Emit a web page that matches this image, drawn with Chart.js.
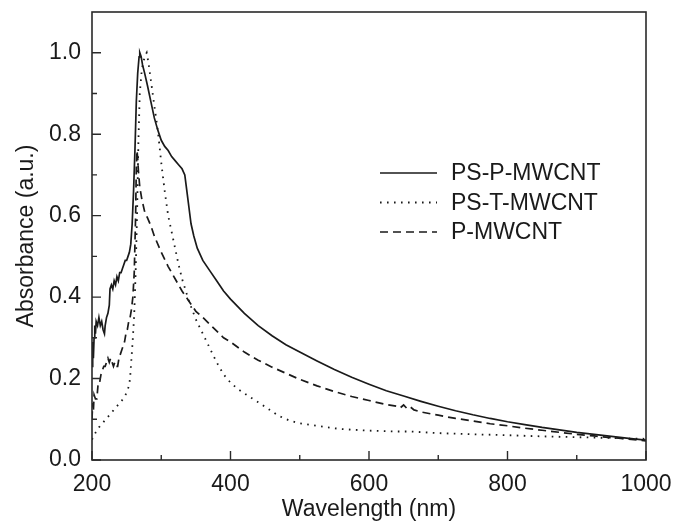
<!DOCTYPE html>
<html>
<head>
<meta charset="utf-8">
<script src="https://cdn.jsdelivr.net/npm/chart.js@4.4.1/dist/chart.umd.min.js"></script>
<style>
  html, body { margin: 0; padding: 0; background: #fff; }
  #wrap { width: 673px; height: 523px; position: relative; }
</style>
</head>
<body>
<div id="wrap"><canvas id="c"></canvas></div>
<script>
// ---- Data ----
const seriesNames = ["PS-P-MWCNT", "PS-T-MWCNT", "P-MWCNT"];

const ppWave = [200,201,202,203,204,205,206,208,210,212,214,216,218,219,221,223,225,226,228,230,232,234,236,238,240,242,244,246,248,250,252,254,256,258,260,262,264,266,268,269,271,273,276,280,285,290,295,300,305,310,315,320,325,330,334,337,340,343,347,352,360,370,380,390,400,420,440,460,480,500,525,550,575,600,625,650,675,700,725,750,775,800,825,850,875,900,925,950,975,1000];
const ppAbs  = [0.23,0.29,0.25,0.30,0.33,0.31,0.34,0.33,0.35,0.33,0.34,0.32,0.31,0.33,0.35,0.36,0.38,0.42,0.43,0.42,0.44,0.43,0.45,0.44,0.46,0.46,0.47,0.48,0.49,0.49,0.50,0.51,0.53,0.58,0.66,0.76,0.88,0.95,0.99,1.00,0.99,0.97,0.95,0.92,0.88,0.84,0.81,0.785,0.77,0.76,0.745,0.735,0.725,0.715,0.70,0.66,0.62,0.58,0.55,0.52,0.49,0.465,0.44,0.415,0.395,0.36,0.33,0.305,0.283,0.265,0.243,0.222,0.203,0.186,0.170,0.157,0.144,0.132,0.121,0.111,0.102,0.094,0.087,0.080,0.074,0.068,0.063,0.058,0.053,0.049];

const ptWave = [200,203,206,210,215,220,225,230,235,240,245,250,253,255,257,259,261,263,265,267,269,272,276,279,282,286,290,295,300,305,310,315,320,325,330,340,350,360,370,380,390,400,410,425,440,455,470,485,500,520,540,560,580,600,620,640,660,680,700,750,800,850,900,950,1000];
const ptAbs  = [0.05,0.06,0.07,0.08,0.09,0.10,0.11,0.12,0.13,0.14,0.15,0.165,0.18,0.20,0.25,0.30,0.36,0.46,0.60,0.78,0.90,0.96,0.99,1.00,0.97,0.92,0.87,0.81,0.73,0.66,0.60,0.56,0.52,0.48,0.445,0.39,0.345,0.31,0.275,0.24,0.21,0.19,0.175,0.158,0.142,0.125,0.108,0.097,0.09,0.085,0.08,0.076,0.074,0.072,0.071,0.070,0.070,0.068,0.066,0.063,0.061,0.058,0.056,0.054,0.052];

const pWave = [200,201,202,203,205,207,209,211,213,215,217,219,221,223,225,227,229,231,233,235,237,239,241,243,245,247,249,251,253,255,257,259,261,263,264,265,266,267,269,272,276,280,285,290,300,310,320,330,340,350,360,375,390,400,420,440,460,480,500,525,550,575,600,625,640,645,650,655,660,665,675,700,725,750,775,800,825,850,875,900,925,950,975,1000];
const pAbs  = [0.10,0.14,0.12,0.16,0.15,0.15,0.19,0.19,0.21,0.22,0.23,0.23,0.24,0.25,0.24,0.25,0.24,0.23,0.24,0.23,0.23,0.25,0.26,0.27,0.28,0.29,0.31,0.32,0.34,0.35,0.37,0.40,0.46,0.60,0.72,0.76,0.74,0.71,0.67,0.64,0.61,0.595,0.575,0.55,0.51,0.475,0.445,0.415,0.39,0.365,0.35,0.325,0.30,0.29,0.265,0.245,0.228,0.213,0.198,0.182,0.168,0.156,0.146,0.136,0.132,0.128,0.135,0.126,0.130,0.123,0.118,0.110,0.102,0.096,0.089,0.084,0.078,0.073,0.068,0.063,0.059,0.055,0.051,0.047];

const xTickValues = [200, 400, 600, 800, 1000];
const xMinorValues = [300, 500, 700, 900];
const yTickValues = [0.0, 0.2, 0.4, 0.6, 0.8, 1.0];
const yMinorValues = [0.1, 0.3, 0.5, 0.7, 0.9];

const xTitle = "Wavelength (nm)";
const yTitle = "Absorbance (a.u.)";

// ---- Build chart ----
const toPts = (xs, ys) => xs.map((x, i) => ({ x: x, y: ys[i] }));
const INK = '#1a1a1a';
const FONT = 'Liberation Sans, Arial, sans-serif';

const datasets = [
  { label: seriesNames[0], data: toPts(ppWave, ppAbs), borderColor: INK, borderWidth: 1.7, borderDash: [] },
  { label: seriesNames[1], data: toPts(ptWave, ptAbs), borderColor: INK, borderWidth: 1.8, borderDash: [1.6, 5.4] },
  { label: seriesNames[2], data: toPts(pWave, pAbs), borderColor: INK, borderWidth: 1.7, borderDash: [8, 5] }
].map(d => Object.assign(d, { showLine: true, pointRadius: 0, fill: false, tension: 0 }));

const framePlugin = {
  id: 'frame',
  afterDatasetsDraw(chart) {
    const { ctx, chartArea: a, scales } = chart;
    ctx.save();
    ctx.strokeStyle = '#2a2a2a';
    ctx.lineWidth = 1.6;
    ctx.setLineDash([]);
    ctx.strokeRect(a.left, a.top, a.right - a.left, a.bottom - a.top);
    ctx.lineWidth = 1.4;
    ctx.beginPath();
    xTickValues.forEach(v => { const p = scales.x.getPixelForValue(v); ctx.moveTo(p, a.bottom); ctx.lineTo(p, a.bottom - 9); });
    xMinorValues.forEach(v => { const p = scales.x.getPixelForValue(v); ctx.moveTo(p, a.bottom); ctx.lineTo(p, a.bottom - 5); });
    yTickValues.forEach(v => { const p = scales.y.getPixelForValue(v); ctx.moveTo(a.left, p); ctx.lineTo(a.left + 9, p); });
    yMinorValues.forEach(v => { const p = scales.y.getPixelForValue(v); ctx.moveTo(a.left, p); ctx.lineTo(a.left + 5, p); });
    ctx.stroke();
    ctx.restore();
  }
};

const legendPlugin = {
  id: 'innerLegend',
  afterDraw(chart) {
    const { ctx } = chart;
    const x0 = 380, x1 = 437, tx = 451, y0 = 173, dy = 29.5;
    ctx.save();
    chart.data.datasets.forEach((d, i) => {
      const y = y0 + i * dy;
      ctx.strokeStyle = d.borderColor;
      ctx.lineWidth = d.borderWidth;
      ctx.setLineDash(d.borderDash || []);
      ctx.beginPath(); ctx.moveTo(x0, y); ctx.lineTo(x1, y); ctx.stroke();
      ctx.setLineDash([]);
      ctx.fillStyle = INK;
      ctx.font = '23px ' + FONT;
      ctx.textBaseline = 'middle';
      ctx.textAlign = 'left';
      ctx.fillText(d.label, tx, y + 1);
    });
    ctx.restore();
  }
};

new Chart(document.getElementById('c'), {
  type: 'scatter',
  data: { datasets: datasets },
  plugins: [framePlugin, legendPlugin],
  options: {
    responsive: true,
    maintainAspectRatio: false,
    animation: false,
    layout: { padding: { top: 12, right: 27, left: 0, bottom: 0 } },
    plugins: { legend: { display: false }, tooltip: { enabled: false } },
    scales: {
      x: {
        type: 'linear', min: 200, max: 1000,
        afterBuildTicks: s => { s.ticks = xTickValues.map(v => ({ value: v })); },
        afterFit: s => { s.height = 63; s.paddingLeft = 0; s.paddingRight = 0; },
        grid: { display: false, drawTicks: false },
        border: { display: false },
        ticks: { color: INK, font: { family: FONT, size: 23 }, padding: 11, maxRotation: 0, callback: v => String(v) },
        title: { display: true, text: xTitle, color: INK, font: { family: FONT, size: 23 }, padding: { top: 0, bottom: 0 } }
      },
      y: {
        type: 'linear', min: 0, max: 1.1,
        afterBuildTicks: s => { s.ticks = yTickValues.map(v => ({ value: v })); },
        afterFit: s => { s.width = 92; s.paddingTop = 0; s.paddingBottom = 0; },
        grid: { display: false, drawTicks: false },
        border: { display: false },
        ticks: { color: INK, font: { family: FONT, size: 23 }, padding: 11, callback: v => Number(v).toFixed(1) },
        title: { display: true, text: yTitle, color: INK, font: { family: FONT, size: 23 }, padding: { top: 13, bottom: 4 } }
      }
    }
  }
});
</script>
</body>
</html>
